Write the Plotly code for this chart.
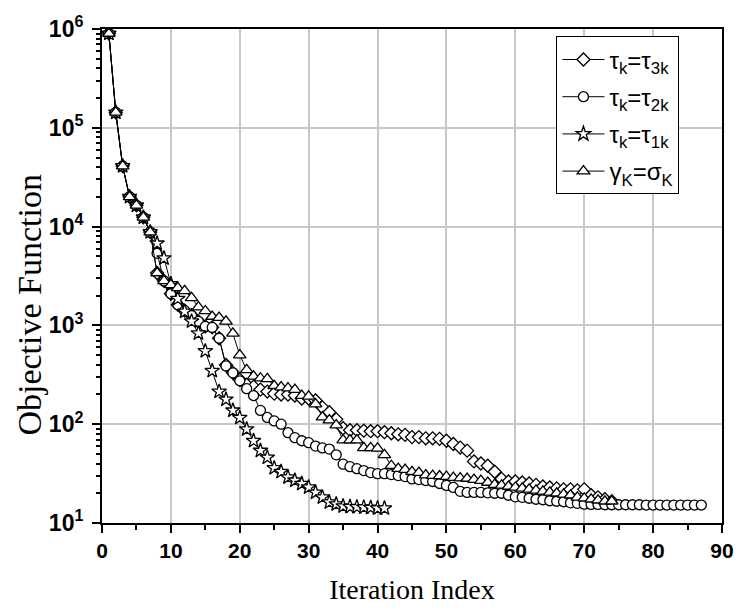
import plotly.graph_objects as go

# shared first iterations
shared = [9.0e5, 1.43e5, 4.1e4, 2.0e4, 1.64e4, 1.24e4, 8.8e3]

tau3_vals = shared + [3390, 2820, 2090, 1620, 1410, 1260, 1100, 977, 955, 741,
                      398, 331, 282, 251, 240, 224, 214, 204, 200, 200,
                      195, 182, 182, 174, 148, 132, 112, 91, 87, 87,
                      86, 85, 85, 83, 81, 79, 78, 74, 74, 72,
                      72, 71, 68, 63, 58, 54, 42, 40, 38, 33,
                      28, 26.3, 26.3, 25.7, 25.1, 24.3, 23.4, 22.9, 22.4, 21.9,
                      21.9, 21.4, 21.9, 19.1, 18.2, 17.4, 16.6]

tau2_vals = shared + [5370, 2820, 2090, 1620, 1410, 1260, 1100, 977, 955, 741,
                      389, 331, 275, 229, 195, 138, 117, 108, 100, 82,
                      73, 68, 65, 60, 57.5, 56, 49, 39.4, 37.2, 35.5,
                      33.9, 32.4, 31.6, 31.6, 30.9, 30.2, 29.5, 27.9, 27.5, 26.9,
                      26.3, 25.1, 24.0, 22.9, 20.9, 20.4, 20.4, 20.4, 20.2, 20.0,
                      20.0, 19.1, 18.4, 18.2, 17.8, 17.4, 17.2, 16.8, 16.6, 16.4,
                      16.0, 15.8, 15.5, 15.4, 15.4, 15.3, 15.3, 15.3, 15.3, 15.3,
                      15.3, 15.2, 15.2, 15.2, 15.2, 15.2, 15.2, 15.2, 15.2, 15.2]

tau1_vals = shared + [6760, 4790, 2630, 1860, 1380, 1100, 832, 550, 347, 214,
                      178, 138, 116, 89, 68, 54, 46, 36, 33, 29,
                      27, 25, 23, 20.4, 18.2, 16.2, 15.5, 14.8, 14.6, 14.5,
                      14.4, 14.3, 14.1, 14.1]

gamma_vals = shared + [3390, 2820, 2570, 2400, 2240, 1900, 1530, 1400, 1230, 1200,
                       1100, 830, 500, 355, 305, 292, 288, 245, 237, 232,
                       224, 195, 191, 160, 118, 110, 98, 69, 69, 69,
                       57.5, 57.5, 57, 49, 38, 35.5, 34.7, 33, 32.4, 30.5,
                       30.2, 29.9, 29.5, 28.8, 28.5, 28.2, 27.5, 26.9, 25.7, 24.5,
                       24.0, 23.4, 22.9, 22.4, 21.9, 21.4, 20.9, 20.4, 20.0, 19.5,
                       19.1, 18.2, 17.8, 17.4, 17.0, 16.6, 16.6]

series = [
    ("τ<sub>k</sub>=τ<sub>3k</sub>", tau3_vals, "diamond", 10),
    ("τ<sub>k</sub>=τ<sub>2k</sub>", tau2_vals, "circle", 10),
    ("τ<sub>k</sub>=τ<sub>1k</sub>", tau1_vals, "star", 11),
    ("γ<sub>K</sub>=σ<sub>K</sub>", gamma_vals, "triangle-up", 11),
]

x_ticks = list(range(0, 91, 10))
y_exps = [1, 2, 3, 4, 5, 6]
y_ticks = [10 ** e for e in y_exps]
y_ticktext = ["10<sup>%d</sup>" % e for e in y_exps]
y_minor = [m * 10 ** e for e in y_exps[:-1] for m in range(2, 10)]

fig = go.Figure()
for i, (name, vals, sym, sz) in enumerate(series):
    fig.add_trace(go.Scatter(
        x=list(range(1, len(vals) + 1)), y=vals, name=name,
        mode="lines+markers", legendgroup="g%d" % i,
        line=dict(color="black", width=1),
        marker=dict(symbol=sym, size=sz, color="white",
                    line=dict(color="black", width=1.3)),
    ))

tickfont = dict(family="Liberation Sans Narrow, Arial Narrow, Liberation Sans, Arial",
                size=21, color="black", weight="bold")
ytickfont = dict(tickfont, size=23)

fig.update_layout(
    width=746, height=612,
    margin=dict(l=102, r=16, t=19, b=87),
    paper_bgcolor="white", plot_bgcolor="white",
    showlegend=True,
    legend=dict(x=0.733, y=0.985, xanchor="left", yanchor="top",
                bgcolor="white", bordercolor="black", borderwidth=1,
                font=dict(family="Liberation Sans, Arial", size=24, color="black"),
                itemwidth=42, tracegroupgap=3),
    annotations=[dict(text="Objective Function", xref="paper", yref="paper",
                      x=-0.117, y=0.443, textangle=-90, showarrow=False,
                      xanchor="center", yanchor="middle",
                      font=dict(family="Liberation Serif, Times New Roman, serif",
                                size=34, color="black"))],
)
fig.update_xaxes(
    range=[0, 90], tickvals=x_ticks, ticktext=[str(t) for t in x_ticks],
    showline=True, linecolor="black", linewidth=2, mirror=True,
    ticks="outside", ticklen=8, tickwidth=2, tickcolor="black",
    minor=dict(dtick=5, tick0=0, ticks="outside", ticklen=5, tickwidth=2,
               tickcolor="black", showgrid=False),
    showgrid=True, gridcolor="#c8c8c8", gridwidth=2,
    zeroline=False, tickfont=tickfont,
    title=dict(text="Iteration Index",
               font=dict(family="Liberation Serif, Times New Roman, serif", size=28, color="black"),
               standoff=18),
)
fig.update_yaxes(
    type="log", range=[1, 6], tickvals=y_ticks, ticktext=y_ticktext,
    showline=True, linecolor="black", linewidth=2, mirror=True,
    ticks="outside", ticklen=8, tickwidth=2, tickcolor="black",
    minor=dict(tickvals=y_minor, ticks="outside", ticklen=4, tickwidth=2,
               tickcolor="black", showgrid=False),
    showgrid=True, gridcolor="#c8c8c8", gridwidth=2,
    zeroline=False, tickfont=ytickfont, ticklabelstandoff=4,
)

fig.write_html("out.html")
